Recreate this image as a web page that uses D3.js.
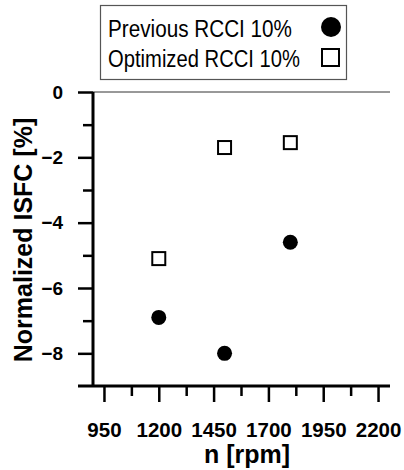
<!DOCTYPE html>
<html>
<head>
<meta charset="utf-8">
<script src="https://cdn.jsdelivr.net/npm/d3@7"></script>
<style>
  body { margin: 0; background: #fff; }
  text { font-family: Arial, "Liberation Sans", sans-serif; }
</style>
</head>
<body>
<div id="chart"></div>
<script>
// data
var speeds = [1200, 1500, 1800];
var previousRCCI = [-6.9, -8.0, -4.6];
var optimizedRCCI = [-5.1, -1.7, -1.55];
var xTicks = [950, 1200, 1450, 1700, 1950, 2200];
var xMinor = [1075, 1325, 1575, 1825, 2075];
var yTicks = [0, -2, -4, -6, -8];
var yMinor = [-1, -3, -5, -7];
var seriesNames = ["Previous RCCI 10%", "Optimized RCCI 10%"];

var attrs = {
    svgWidth: 404,
    svgHeight: 470,
    marginLeft: 93,
    marginTop: 92,
    plotRight: 390,
    plotBottom: 386
};

var svg = d3.select('#chart').append('svg')
    .attr('width', attrs.svgWidth)
    .attr('height', attrs.svgHeight);

var xScale = d3.scaleLinear().domain([900, 2250]).range([attrs.marginLeft, 389]);
var yScale = d3.scaleLinear().domain([-9, 0]).range([attrs.plotBottom, attrs.marginTop]);

// top reference line at 0
svg.append('line')
    .attr('x1', attrs.marginLeft).attr('x2', attrs.plotRight)
    .attr('y1', yScale(0)).attr('y2', yScale(0))
    .attr('stroke', '#333').attr('stroke-width', 1);

// y axis
var yAxis = svg.append('g')
    .attr('transform', 'translate(' + attrs.marginLeft + ',0)')
    .call(d3.axisLeft(yScale).tickValues(yTicks).tickSize(15).tickPadding(15).tickFormat(d3.format('d')));
yAxis.select('.domain').attr('stroke', '#000').attr('stroke-width', 3).attr('d', 'M0,' + yScale(0) + 'V' + attrs.plotBottom);
yAxis.selectAll('.tick line').attr('stroke', '#000').attr('stroke-width', 2.5);
yAxis.selectAll('.tick text')
    .attr('fill', '#000').style('font-size', '19px').style('font-weight', 'bold');

var yAxisMinor = svg.append('g')
    .attr('transform', 'translate(' + attrs.marginLeft + ',0)')
    .call(d3.axisLeft(yScale).tickValues(yMinor).tickSize(10).tickFormat(''));
yAxisMinor.select('.domain').remove();
yAxisMinor.selectAll('.tick line').attr('stroke', '#000').attr('stroke-width', 2.5);

// x axis
var xAxis = svg.append('g')
    .attr('transform', 'translate(0,' + attrs.plotBottom + ')')
    .call(d3.axisBottom(xScale).tickValues(xTicks).tickSize(16).tickFormat(d3.format('d')));
xAxis.select('.domain').attr('stroke', '#000').attr('stroke-width', 3).attr('d', 'M78,0H' + attrs.plotRight);
xAxis.selectAll('.tick line').attr('stroke', '#000').attr('stroke-width', 2.5);
xAxis.selectAll('.tick text')
    .attr('y', 51).attr('dy', 0)
    .attr('fill', '#000').style('font-size', '20.5px').style('font-weight', 'bold');

var xAxisMinor = svg.append('g')
    .attr('transform', 'translate(0,' + attrs.plotBottom + ')')
    .call(d3.axisBottom(xScale).tickValues(xMinor).tickSize(10).tickFormat(''));
xAxisMinor.select('.domain').remove();
xAxisMinor.selectAll('.tick line').attr('stroke', '#000').attr('stroke-width', 2.5);

// axis titles
svg.append('text')
    .attr('transform', 'translate(32,' + 240 + ') rotate(-90)')
    .attr('text-anchor', 'middle')
    .style('font-size', '25px').style('font-weight', 'bold')
    .text('Normalized ISFC [%]');

svg.append('text')
    .attr('x', 247).attr('y', 463)
    .attr('text-anchor', 'middle')
    .style('font-size', '25px').style('font-weight', 'bold')
    .text('n [rpm]');

// points
var prevData = speeds.map(function (d, i) { return { n: d, v: previousRCCI[i] }; });
var optData = speeds.map(function (d, i) { return { n: d, v: optimizedRCCI[i] }; });

svg.selectAll('.prev').data(prevData).enter().append('circle')
    .attr('class', 'prev')
    .attr('cx', function (d) { return xScale(d.n); })
    .attr('cy', function (d) { return yScale(d.v); })
    .attr('r', 7.5)
    .attr('fill', '#000');

svg.selectAll('.opt').data(optData).enter().append('rect')
    .attr('class', 'opt')
    .attr('x', function (d) { return xScale(d.n) - 6.5; })
    .attr('y', function (d) { return yScale(d.v) - 6.5; })
    .attr('width', 13).attr('height', 13)
    .attr('fill', '#fff').attr('stroke', '#000').attr('stroke-width', 2);

// legend
var legend = svg.append('g');
legend.append('rect')
    .attr('x', 100.5).attr('y', 5.5).attr('width', 246).attr('height', 74)
    .attr('fill', '#fff').attr('stroke', '#555').attr('stroke-width', 1.2);

var legendWidths = [184, 192];
legend.selectAll('.ltext').data(seriesNames).enter().append('text')
    .attr('class', 'ltext')
    .attr('x', 108)
    .attr('y', function (d, i) { return 37 + i * 30; })
    .attr('textLength', function (d, i) { return legendWidths[i]; })
    .attr('lengthAdjust', 'spacingAndGlyphs')
    .style('font-size', '23px')
    .text(function (d) { return d; });

legend.append('circle')
    .attr('cx', 331).attr('cy', 27).attr('r', 10).attr('fill', '#000');
legend.append('rect')
    .attr('x', 322).attr('y', 49).attr('width', 17).attr('height', 17)
    .attr('fill', '#fff').attr('stroke', '#000').attr('stroke-width', 2);
</script>
</body>
</html>
